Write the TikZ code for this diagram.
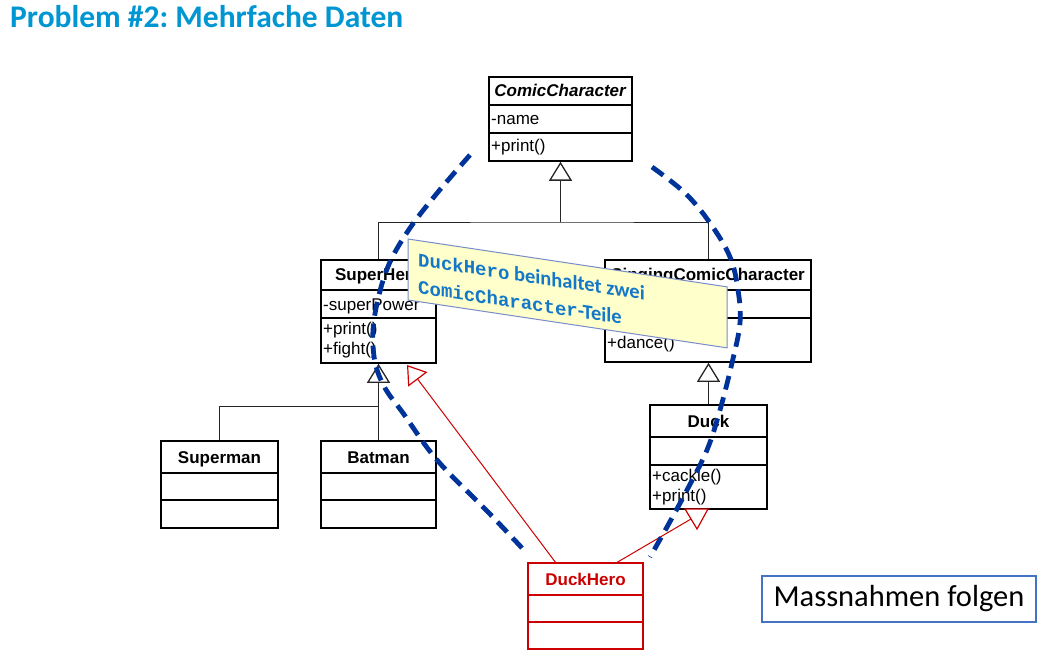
\documentclass[tikz,border=0pt]{standalone}
\usepackage{fontspec}
\setmainfont{Liberation Sans}
\newfontfamily\calibri{Carlito}
\newfontfamily\monofnt{Liberation Mono}
\usetikzlibrary{arrows.meta}
\definecolor{titleblue}{RGB}{0,150,210}
\definecolor{notefill}{RGB}{255,255,204}
\definecolor{noteborder}{RGB}{120,140,200}
\definecolor{notetext}{RGB}{20,120,200}
\definecolor{dashblue}{RGB}{0,51,153}
\definecolor{umlred}{RGB}{204,0,0}
\definecolor{boxblue}{RGB}{68,114,196}
\newcommand\clsframe[8]{%
  \node[draw=#8, line width=1.6pt, inner sep=0pt, minimum width={#4-#2}, minimum height={#5-#3}] (#1) at ({(#2+#4)/2},{(#3+#5)/2}) {};
  \draw[#8, line width=1.4pt] (#2,#6) -- (#4,#6) (#2,#7) -- (#4,#7);
}
\tikzset{
  ttl/.style={anchor=base, inner sep=0pt, font=\fontsize{17}{20}\selectfont\bfseries},
  mem/.style={anchor=base west, inner sep=0pt, font=\fontsize{17}{20}\selectfont},
  conn/.style={draw=black!85, line width=0.9pt},
  gen/.style={conn, -{Triangle[open, length=19pt, width=23pt, line width=1.3pt]}},
  redgen/.style={draw=umlred, line width=1pt, -{Triangle[open, length=18pt, width=24pt, line width=1.2pt]}},
  redline/.style={draw=umlred, line width=1pt},
  arc/.style={draw=dashblue, line width=4.8pt, dash pattern=on 14pt off 8pt},
}
\begin{document}
\frenchspacing
\begin{tikzpicture}[x=1pt,y=-1pt]
\fill[white] (0,0) rectangle (1043,655);
\useasboundingbox (0,0) rectangle (1043,655);

% title
\node[anchor=base west, inner sep=0pt, text=titleblue, font=\calibri\bfseries\fontsize{31.5}{36}\selectfont] (title) at (10,28) {Problem \#2: Mehrfache Daten};

% classes
\clsframe{cc}{489}{77}{632}{161}{105}{133}{black}
\node[ttl] (cct) at (560.5,97) {\textit{ComicCharacter}};
\node[mem] (cca) at (491,125) {-name};
\node[mem] (ccm) at (491,152) {+print()};

\clsframe{sh}{321}{260}{436}{363}{290}{318}{black}
\node[ttl] (sht) at (378.5,280) {SuperHero};
\node[mem] (sha) at (323,310) {-superPower};
\node[mem] (shm1) at (323,334) {+print()};
\node[mem] (shm2) at (323,354) {+fight()};

\clsframe{sc}{605}{260}{811}{362}{290}{318}{black}
\node[ttl] (sct) at (708,280) {SingingComicCharacter};
\node[mem] (scm1) at (607,328) {+sing()};
\node[mem] (scm2) at (607,348) {+dance()};

\clsframe{sm}{161}{441}{278}{528}{473}{500}{black}
\node[ttl] (smt) at (219.5,463) {Superman};

\clsframe{bm}{321}{441}{436}{528}{473}{500}{black}
\node[ttl] (bmt) at (378.5,463) {Batman};

\clsframe{dk}{650}{405}{767}{509}{437}{465}{black}
\node[ttl] (dkt) at (708.5,427) {Duck};
\node[mem] (dkm1) at (652,481) {+cackle()};
\node[mem] (dkm2) at (652,501) {+print()};

\clsframe{dh}{528}{563}{643}{649}{595}{622}{umlred}
\node[ttl, text=umlred] (dht) at (585.5,585) {DuckHero};

% generalisations
\coordinate (j1) at (560.5,222);
\draw[conn] (sh.north) |- (j1) -| (sc.north);
\draw[gen] (j1) -- (cc.south);
\coordinate (j2) at (378.5,406);
\draw[conn] (sm.north) |- (j2);
\draw[gen] (bm.north) -- (sh.south);
\draw[gen] (dk.north) -- (dk.north |- sc.south);

% red arrows
\coordinate (dhl) at (556,563);
\coordinate (shtip) at (407,365);
\draw[redgen] (dhl) -- (shtip);
\coordinate (dhr) at (616,563);
\coordinate (dktri) at (691,519);
\draw[redline] (dhr) -- (dktri);
\draw[redline, line width=1.2pt, fill=white] (685,509) -- (708,509) -- (697,529) -- cycle;

% note
\begin{scope}[shift={(408,239)}, yslant=-0.15]
  \draw[fill=notefill, draw=noteborder, line width=1pt] (0,0) rectangle (319,61);
  \node[anchor=base west, inner sep=0pt, text=notetext, transform shape] (n1) at (10,25.5)
    {\monofnt\bfseries\fontsize{19}{22}\selectfont DuckHero\calibri\fontsize{20.5}{22}\selectfont{} beinhaltet zwei};
  \node[anchor=base west, inner sep=0pt, text=notetext, transform shape] (n2) at (10,53)
    {\monofnt\bfseries\fontsize{19}{22}\selectfont ComicCharacter\calibri\fontsize{20.5}{22}\selectfont -Teile};
\end{scope}

% dashed arcs
\draw[arc] plot[smooth, tension=0.6] coordinates {(470,155) (438,192) (410,228) (390,262) (379,295) (373,330) (375,362) (385,388) (403,413) (437,460) (488,512) (522,548)};
\draw[arc] plot[smooth, tension=0.6] coordinates {(652,167) (685,193) (710,223) (730,257) (738,290) (740,323) (732,363) (720,410) (707,450) (687,490) (667,527) (650,557)};

% Massnahmen
\node[draw=boxblue, line width=1.5pt, minimum width=274, minimum height=46, inner sep=0pt, font=\calibri\fontsize{30.5}{34}\selectfont] (mass) at (899,599) {Massnahmen folgen};
\end{tikzpicture}
\end{document}
